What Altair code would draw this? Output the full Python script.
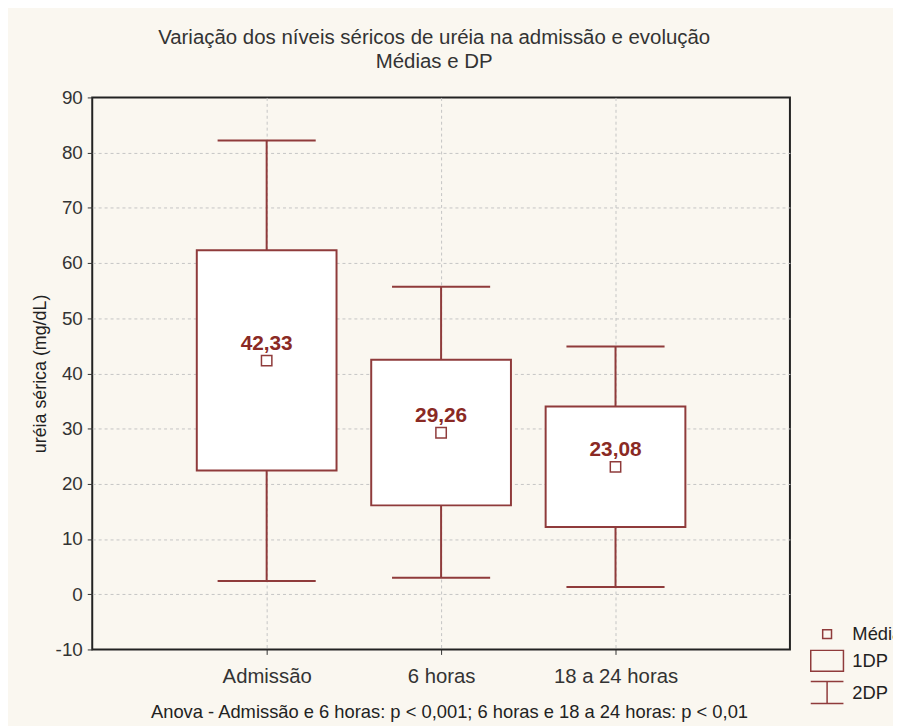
import altair as alt
import pandas as pd

# ---- data ----
categories = ["Admissão", "6 horas", "18 a 24 horas"]
means = [42.33, 29.26, 23.08]
mean_labels = ["42,33", "29,26", "23,08"]
box_low = [22.4, 16.1, 12.2]        # média - 1DP
box_high = [62.3, 42.5, 34.0]       # média + 1DP
whisker_low = [2.4, 3.0, 1.3]       # média - 2DP
whisker_high = [82.2, 55.7, 44.9]   # média + 2DP
y_ticks = [-10, 0, 10, 20, 30, 40, 50, 60, 70, 80, 90]
legend_items = ["Média", "1DP", "2DP"]
legend_paths = [
    "M-0.27,-0.27H0.27V0.27H-0.27Z",
    "M-1,-0.64H1V0.64H-1Z",
    "M-1,-0.67H1M0,-0.67V0.67M-1,0.67H1",
]

title_lines = ["Variação dos níveis séricos de uréia na admissão e evolução", "Médias e DP"]
y_title = "uréia sérica (mg/dL)"
x_title = "Anova - Admissão e 6 horas: p < 0,001; 6 horas e 18 a 24 horas: p < 0,01"

C = "#8f3b3b"
TC = "#8a2a24"
FONT = "Liberation Sans"

df = pd.DataFrame({
    "categoria": categories,
    "media": means,
    "rotulo": mean_labels,
    "box_low": box_low,
    "box_high": box_high,
    "whisker_low": whisker_low,
    "whisker_high": whisker_high,
})
legend_df = pd.DataFrame({"item": legend_items})

x_enc = alt.X(
    "categoria:N",
    sort=categories,
    scale=alt.Scale(type="point", padding=1),
    title=x_title,
)
y_scale = alt.Scale(domain=[-10, 90], nice=False, zero=False)
y_axis = alt.Axis(
    values=y_ticks,
    labelExpr="datum.value + ''",
    gridOpacity=alt.condition("datum.value <= -10 || datum.value >= 90", alt.value(0), alt.value(1)),
)


def Y(field):
    return alt.Y(field, type="quantitative", scale=y_scale, title=y_title, axis=y_axis)


base = alt.Chart(df)

rule = base.mark_rule(color=C, strokeWidth=2).encode(
    x=x_enc, y=Y("whisker_low"), y2="whisker_high"
)
box = base.mark_bar(size=141, fill="white", stroke=C, strokeWidth=2).encode(
    x=x_enc, y=Y("box_low"), y2="box_high"
)
cap_low = base.mark_tick(size=99, thickness=2, color=C, opacity=1).encode(
    x=x_enc, y=Y("whisker_low")
)
cap_high = base.mark_tick(size=99, thickness=2, color=C, opacity=1).encode(
    x=x_enc, y=Y("whisker_high")
)
mean_pt = base.mark_point(
    shape="square", size=110, filled=True, fill="white", stroke=C,
    strokeWidth=1.5, opacity=1,
).encode(x=x_enc, y=Y("media"))
labels = base.mark_text(
    dy=-17, fontSize=21, fontWeight="bold", color=TC, font=FONT
).encode(x=x_enc, y=Y("media"), text="rotulo:N")

legend_layer = (
    alt.Chart(legend_df)
    .transform_filter("false")
    .mark_point(filled=False, color=C, strokeWidth=1.5, opacity=1)
    .encode(
        shape=alt.Shape(
            "item:N",
            sort=legend_items,
            scale=alt.Scale(domain=legend_items, range=legend_paths),
            legend=alt.Legend(
                title=None,
                orient="none",
                legendX=724,
                legendY=524,
                symbolSize=1089,
                symbolStrokeColor=C,
                symbolStrokeWidth=1.5,
                symbolOpacity=1,
                labelFontSize=18.5,
                labelColor="#222",
                labelFont=FONT,
                labelOffset=8,
                rowPadding=0,
                padding=0,
            ),
        )
    )
)

chart = (
    alt.layer(rule, box, cap_low, cap_high, mean_pt, labels, legend_layer)
    .properties(
        width=704,
        height=557,
        autosize="none",
        padding={"left": 85, "top": 87, "right": 104, "bottom": 74},
        background="#faf7f0",
        title=alt.TitleParams(
            text=title_lines,
            fontSize=20.6,
            fontWeight="normal",
            color="#333",
            font=FONT,
            lineHeight=24.5,
            offset=16,
            dx=-7,
            anchor="middle",
        ),
    )
    .configure(font=FONT)
    .configure_view(stroke="#222", strokeWidth=2, fill="white")
    .configure_axis(
        domain=False,
        grid=True,
        gridColor="#c4c4c4",
        gridDash=[3, 3],
        gridWidth=1,
        ticks=True,
        tickColor="#333",
        tickSize=5,
        labelColor="#333",
        labelFont=FONT,
        titleFont=FONT,
        titleFontWeight="normal",
        titleColor="#222",
    )
    .configure_axisX(
        labelFontSize=20.5,
        labelPadding=12,
        labelAngle=0,
        titleFontSize=18.5,
        titlePadding=16,
        titleX=360,
    )
    .configure_axisY(
        labelFontSize=19,
        labelPadding=5,
        titleFontSize=18,
        titlePadding=6,
    )
)

chart.save("out.html", embed_options={"renderer": "svg", "actions": False})
